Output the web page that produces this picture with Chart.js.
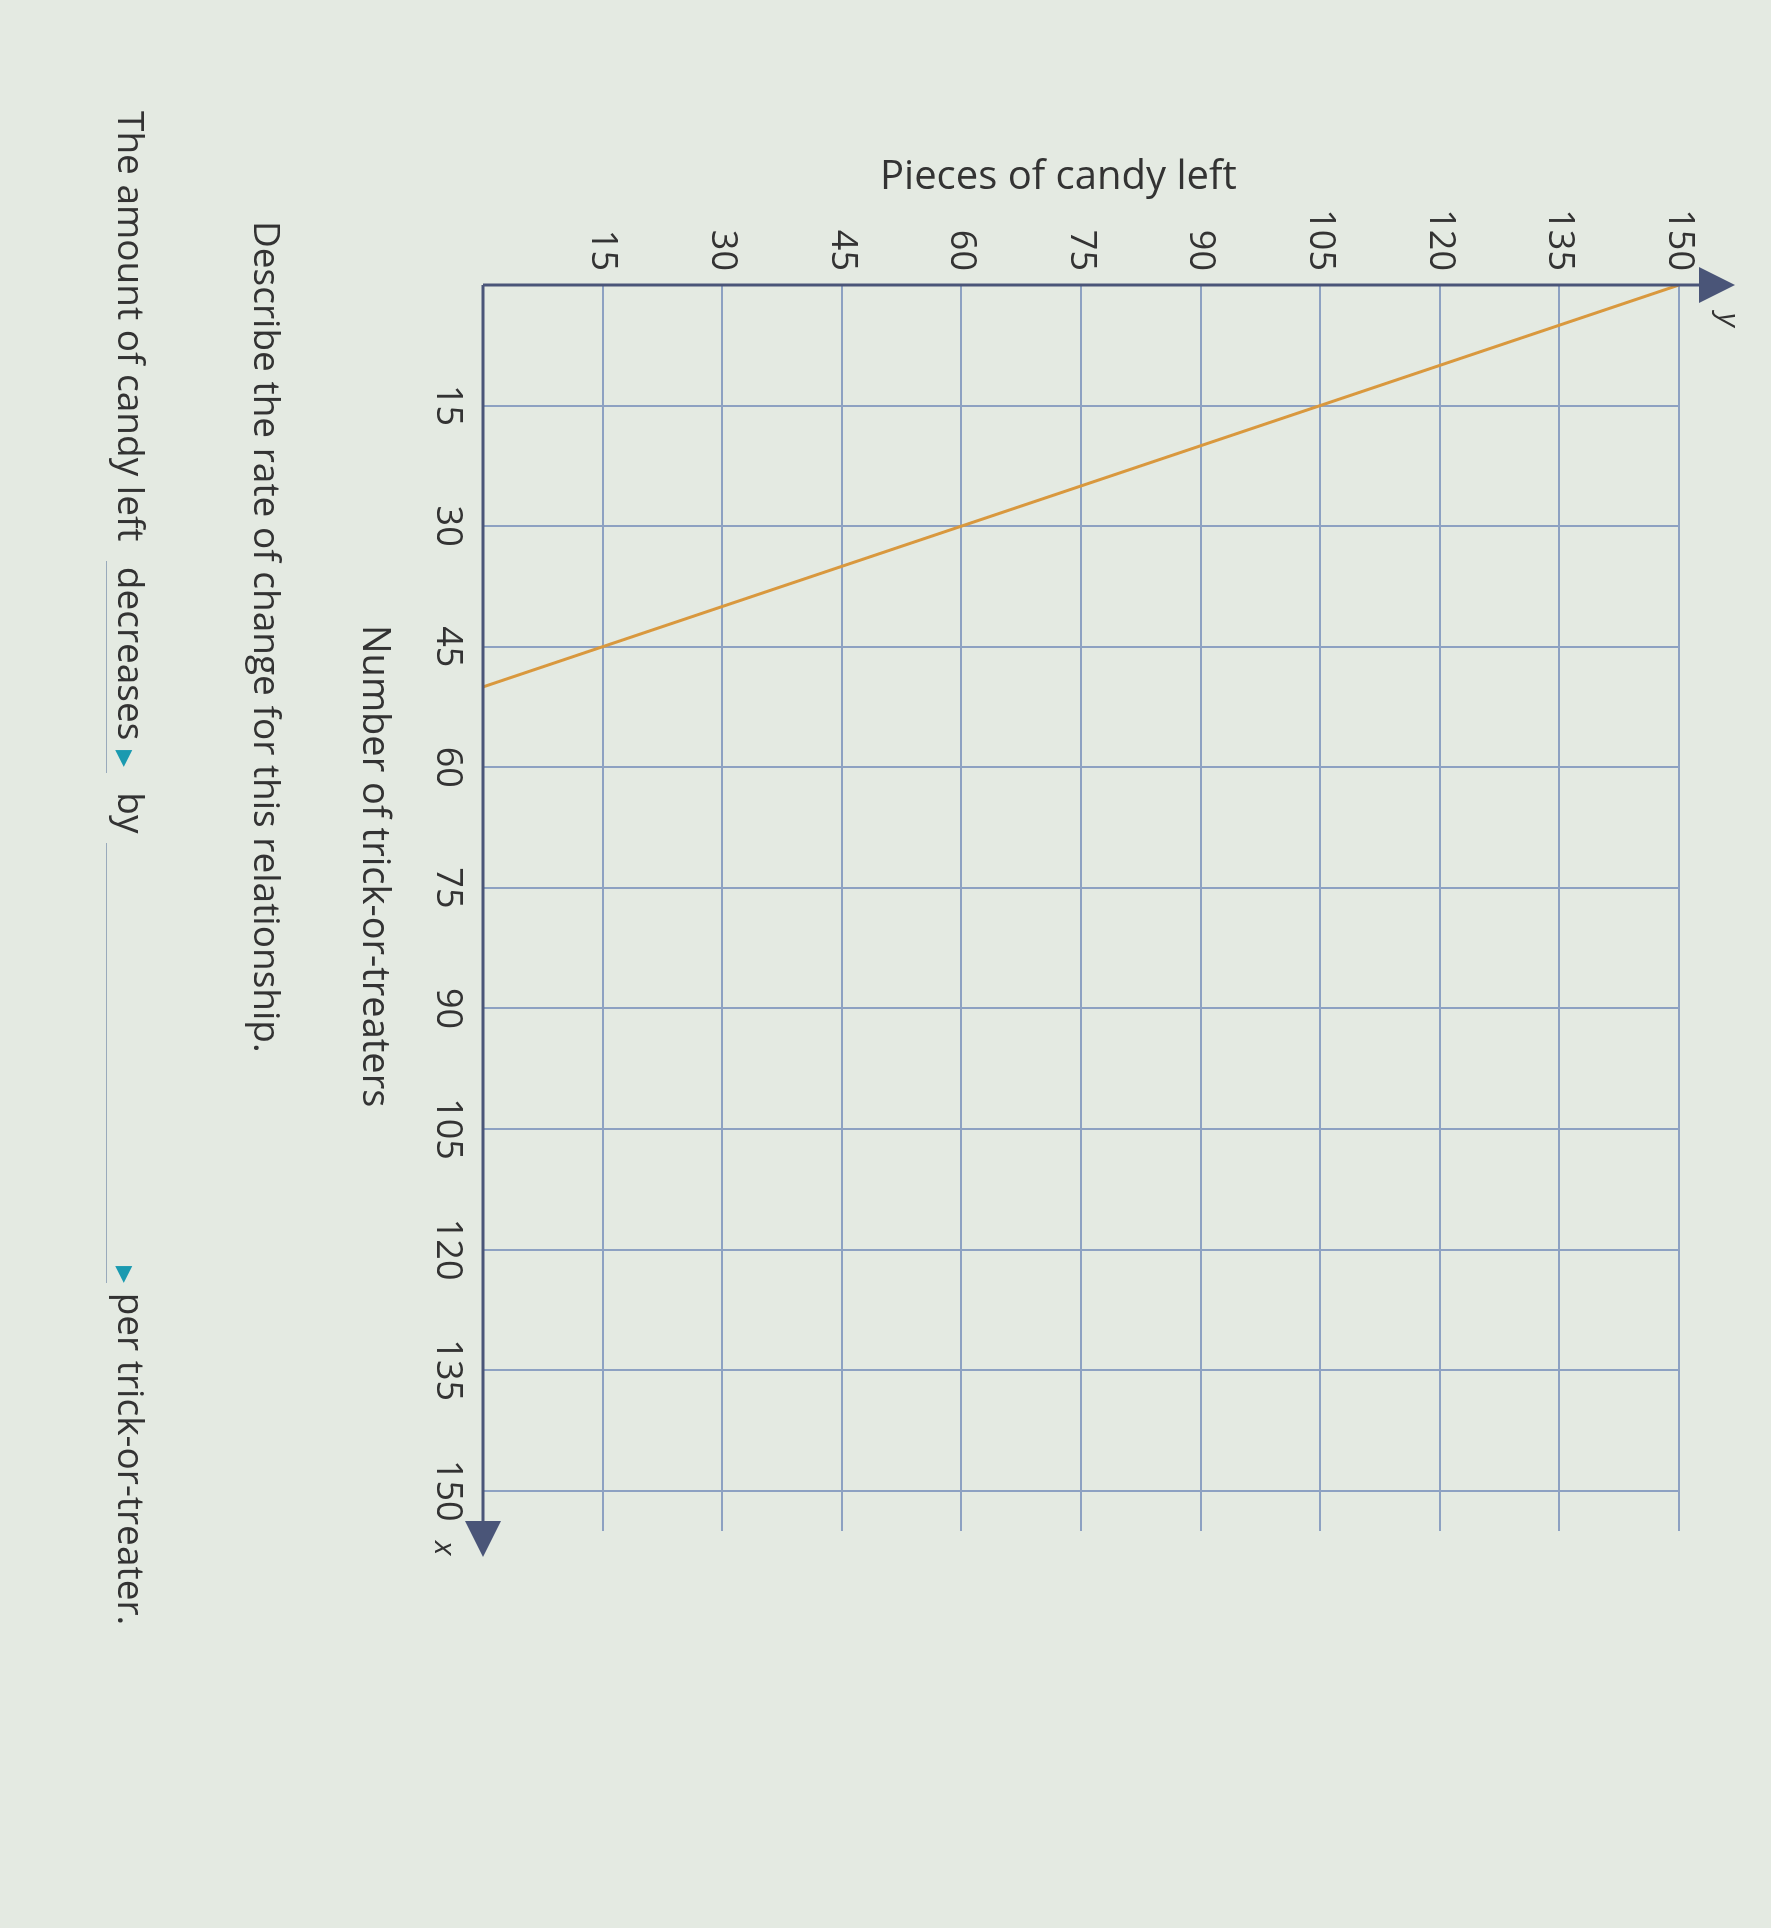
<!DOCTYPE html>
<html><head><meta charset="utf-8">
<script src="https://cdn.jsdelivr.net/npm/chart.js@4"></script>
<style>
html,body{margin:0;padding:0;width:1771px;height:1928px;overflow:hidden;background:#e4eae2;font-family:"Open Sans","Noto Sans",sans-serif;color:#333;}
#wrap{position:absolute;left:0;top:0;width:1928px;height:1771px;transform-origin:0 0;transform:translate(1771px,0) rotate(90deg);}
.rt{position:absolute;transform-origin:0 0;transform:rotate(90deg);white-space:nowrap;font-size:37px;}
</style></head><body>
<div id="wrap"><canvas id="c" width="1928" height="1771"></canvas></div>
<div style="position:absolute;left:880px;top:146px;font-size:40px;">Pieces of candy left</div>
<div class="rt" style="left:404px;top:625px;font-size:38px;">Number of trick-or-treaters</div>
<div class="rt" style="left:294px;top:221px;">Describe the rate of change for this relationship.</div>
<div class="rt" style="left:158px;top:111px;">The amount of candy left &nbsp;<span style="border-bottom:1px solid #9ab;padding:0 6px">decreases <span style="color:#1a9ab0;font-size:22px">▶</span></span>&nbsp; by <span style="display:inline-block;width:440px;border-bottom:1px solid #9ab;text-align:right;"><span style="color:#1a9ab0;font-size:22px">▶</span></span> per trick-or-treater.</div>
<script>
const xValues=[0,50];
const yValues=[150,0];
const tickStep=15;
const axisColor='#4a5578';
const arrows={id:'arrows',afterDraw(ch){
  const c=ch.ctx,x=ch.scales.x,y=ch.scales.y;
  const x0=x.getPixelForValue(0),y0=y.getPixelForValue(0);
  c.save();c.fillStyle=axisColor;c.strokeStyle=axisColor;c.lineWidth=3;
  c.beginPath();c.moveTo(x0,y0);c.lineTo(x0,y.getPixelForValue(150)-20);c.stroke();
  c.beginPath();c.moveTo(x0,y0);c.lineTo(x.getPixelForValue(155)-10,y0);c.stroke();
  const ty=y.getPixelForValue(150)-20;
  c.beginPath();c.moveTo(x0-18,ty);c.lineTo(x0+18,ty);c.lineTo(x0,ty-36);c.closePath();c.fill();
  const tx=x.getPixelForValue(155)-10;
  c.beginPath();c.moveTo(tx,y0-18);c.lineTo(tx,y0+18);c.lineTo(tx+36,y0);c.closePath();c.fill();
  c.font='italic 30px "Open Sans"';c.fillStyle='#333';
  c.fillText('y',x0+28,ty-20);c.fillText('x',tx+20,y0+48);
  c.restore();}};
new Chart(document.getElementById('c'),{type:'scatter',
 data:{datasets:[{data:xValues.map((v,i)=>({x:v,y:yValues[i]})),showLine:true,borderColor:'#d9983e',borderWidth:3,pointRadius:0}]},
 options:{responsive:false,animation:false,layout:{padding:{left:0,top:92,right:397,bottom:0}},
  plugins:{legend:{display:false},tooltip:{enabled:false}},
  scales:{
   x:{type:'linear',min:0,max:155,afterFit(s){s.height=483;},
     afterBuildTicks(s){s.ticks=[];for(let v=tickStep;v<=150;v+=tickStep)s.ticks.push({value:v});},
     grid:{color:'#8da1c2',lineWidth:2,drawTicks:false},border:{display:false},
     ticks:{color:'#333',font:{size:36,family:'Open Sans'},padding:14,maxRotation:0}},
   y:{type:'linear',min:0,max:150,afterFit(s){s.width=285;},
     afterBuildTicks(s){s.ticks=[];for(let v=tickStep;v<=150;v+=tickStep)s.ticks.push({value:v});},
     grid:{color:'#8da1c2',lineWidth:2,drawTicks:false},border:{display:false},
     ticks:{color:'#333',font:{size:36,family:'Open Sans'},padding:14}}}},
 plugins:[arrows]});
</script></body></html>
